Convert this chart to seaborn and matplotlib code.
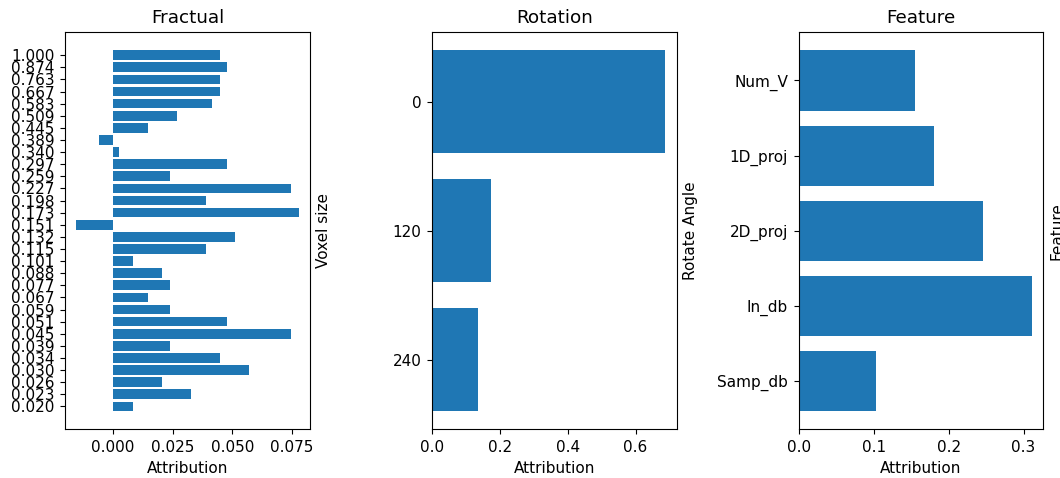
import matplotlib
matplotlib.use("Agg")
import matplotlib.pyplot as plt
import seaborn as sns
import pandas as pd

# ---- data (listed top to bottom as displayed) ----
voxel_sizes = ["1.000", "0.874", "0.763", "0.667", "0.583", "0.509", "0.445", "0.389",
               "0.340", "0.297", "0.259", "0.227", "0.198", "0.173", "0.151", "0.132",
               "0.115", "0.101", "0.088", "0.077", "0.067", "0.059", "0.051", "0.045",
               "0.039", "0.034", "0.030", "0.026", "0.023", "0.020"]
voxel_attr = [0.0447, 0.0476, 0.0447, 0.0447, 0.0415, 0.0267, 0.0147, -0.0060,
              0.0026, 0.0476, 0.0240, 0.0746, 0.0388, 0.0778, -0.0153, 0.0510,
              0.0388, 0.0086, 0.0207, 0.0240, 0.0147, 0.0240, 0.0476, 0.0746,
              0.0240, 0.0449, 0.0568, 0.0207, 0.0328, 0.0086]

rot_angles = ["0", "120", "240"]
rot_attr = [0.6864, 0.1748, 0.1355]

features = ["Num_V", "1D_proj", "2D_proj", "In_db", "Samp_db"]
feat_attr = [0.1547, 0.1800, 0.2453, 0.3107, 0.1031]

titles = ["Fractual", "Rotation", "Feature"]
ylabels = ["Voxel size", "Rotate Angle", "Feature"]

BLUE = "#1f77b4"

fig, axes = plt.subplots(1, 3, figsize=(10.6, 4.78), dpi=100)
fig.subplots_adjust(left=0.0616, right=0.9842, bottom=0.1019, top=0.9324, wspace=0.5)

panels = [(voxel_sizes, voxel_attr), (rot_angles, rot_attr), (features, feat_attr)]
for ax, (cats, vals), title, ylab in zip(axes, panels, titles, ylabels):
    df = pd.DataFrame({"cat": cats, "val": vals})
    sns.barplot(data=df, x="val", y="cat", order=cats, orient="h", ax=ax,
                color=BLUE, saturation=1, width=0.8, linewidth=0, edgecolor="none",
                errorbar=None)
    n = len(cats)
    pad = 0.05 * (n - 0.2)
    ax.set_ylim(n - 0.6 + pad, -0.4 - pad)
    ax.set_title(title, fontsize=13.2, pad=6.6)
    ax.set_xlabel("Attribution", fontsize=11, labelpad=4.4)
    ax.set_ylabel(ylab, fontsize=11, labelpad=4.4)
    ax.yaxis.set_label_position("right")
    ax.tick_params(labelsize=11, length=3.85, pad=3.85)
    for s in ax.spines.values():
        s.set_visible(True)

fig.savefig("out.png", dpi=100)
